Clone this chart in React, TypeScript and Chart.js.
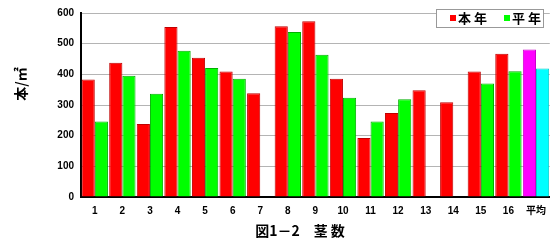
import React, { useEffect, useRef } from "react";
import { Chart, registerables } from "chart.js";

Chart.register(...registerables);

const categories = ["1", "2", "3", "4", "5", "6", "7", "8", "9", "10", "11", "12", "13", "14", "15", "16", "平均"];
const thisYear = [383, 438, 238, 554, 454, 409, 338, 557, 573, 386, 192, 274, 348, 309, 409, 467, 481];
const normalYear: (number | null)[] = [246, 395, 337, 477, 421, 386, null, 538, 464, 324, 246, 319, null, null, 370, 410, 419];
const yTicks = [0, 100, 200, 300, 400, 500, 600];
const seriesLabels = ["本 年", "平 年"];
const yTitle = "本/㎡";
const xTitle = "図1－2　茎 数";

const FONT = "'Liberation Sans', Arial, 'Noto Sans CJK JP', sans-serif";
const JFONT = "'Noto Sans CJK JP', 'Liberation Sans', sans-serif";

const n = categories.length;
const redBg = categories.map((_, i) => (i === n - 1 ? "#ff00ff" : "#ff0000"));
const redBorder = categories.map((_, i) => (i === n - 1 ? "#cc00cc" : "#c00000"));
const greenBg = categories.map((_, i) => (i === n - 1 ? "#00ffff" : "#00ff00"));
const greenBorder = categories.map((_, i) => (i === n - 1 ? "#00cccc" : "#00b000"));

const decorPlugin = {
  id: "decor",
  afterDraw(chart: any) {
    const ctx = chart.ctx as CanvasRenderingContext2D;
    ctx.save();
    // y title
    ctx.fillStyle = "#000";
    ctx.font = `bold 14px ${JFONT}`;
    ctx.textAlign = "center";
    ctx.textBaseline = "middle";
    ctx.translate(21, 84);
    ctx.rotate(-Math.PI / 2);
    ctx.fillText(yTitle, 0, 0);
    ctx.setTransform(1, 0, 0, 1, 0, 0);
    // x title
    ctx.font = `bold 14px ${JFONT}`;
    ctx.textAlign = "center";
    ctx.fillText(xTitle, 300, 231);
    // legend
    const bx = 436, by = 9, bw = 108, bh = 19;
    ctx.fillStyle = "#fff";
    ctx.fillRect(bx, by, bw, bh);
    ctx.strokeStyle = "#999";
    ctx.lineWidth = 1;
    ctx.strokeRect(bx + 0.5, by + 0.5, bw - 1, bh - 1);
    const items = [
      { x: 450, color: "#ff0000", label: seriesLabels[0] },
      { x: 504, color: "#00ff00", label: seriesLabels[1] },
    ];
    ctx.font = `bold 13px ${JFONT}`;
    ctx.textAlign = "left";
    ctx.textBaseline = "middle";
    for (const it of items) {
      ctx.fillStyle = it.color;
      ctx.fillRect(it.x, 15, 6, 6);
      ctx.fillStyle = "#000";
      ctx.fillText(it.label, it.x + 8, 18.5);
    }
    ctx.restore();
  },
};

export default function App() {
  const ref = useRef<HTMLCanvasElement | null>(null);
  useEffect(() => {
    document.body.style.margin = "0";
    const chart = new Chart(ref.current!, {
      type: "bar",
      data: {
        labels: categories,
        datasets: [
          {
            label: seriesLabels[0],
            data: thisYear,
            backgroundColor: redBg,
            borderColor: redBorder,
            borderWidth: 1,
            categoryPercentage: 0.955,
            barPercentage: 1.0,
          },
          {
            label: seriesLabels[1],
            data: normalYear,
            backgroundColor: greenBg,
            borderColor: greenBorder,
            borderWidth: 1,
            categoryPercentage: 0.955,
            barPercentage: 1.0,
          },
        ],
      },
      options: {
        animation: false,
        responsive: false,
        maintainAspectRatio: false,
        layout: { padding: { top: 11, left: 0, right: 0, bottom: 0 } },
        plugins: { legend: { display: false }, tooltip: { enabled: false } },
        scales: {
          x: {
            grid: { display: false, drawTicks: false },
            border: { display: true, color: "#000", width: 2 },
            ticks: { padding: 8, color: "#000", font: { family: FONT, size: 10, weight: "bold" }, maxRotation: 0, autoSkip: false },
            afterFit: (s: any) => { s.height = 52; },
          },
          y: {
            min: 0,
            max: 600,
            afterBuildTicks: (s: any) => { s.ticks = yTicks.map((v) => ({ value: v })); },
            grid: { color: "#b4b4b4", lineWidth: 1, drawTicks: false },
            border: { display: true, color: "#000", width: 2 },
            ticks: { padding: 7, color: "#000", font: { family: FONT, size: 10, weight: "bold" } },
            afterFit: (s: any) => { s.width = 81; },
          },
        },
      } as any,
      plugins: [decorPlugin],
    });
    return () => chart.destroy();
  }, []);
  return (
    <div style={{ width: 554, height: 249, position: "relative", background: "#fff" }}>
      <canvas ref={ref} width={554} height={249} style={{ width: 554, height: 249, display: "block" }} />
    </div>
  );
}
